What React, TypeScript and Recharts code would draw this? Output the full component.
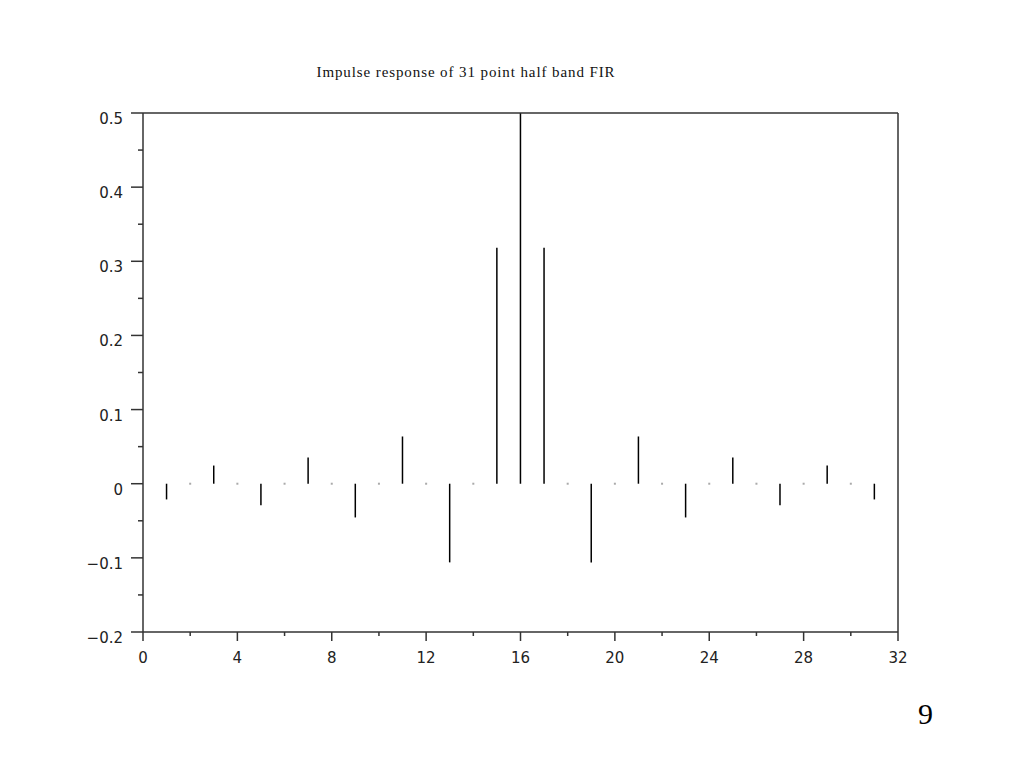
import React from 'react';
import { ComposedChart, Bar, Scatter, XAxis, YAxis, ReferenceLine } from 'recharts';

// sample index and coefficient
const sampleIndex = [1, 2, 3, 4, 5, 6, 7, 8, 9, 10, 11, 12, 13, 14, 15, 16, 17, 18, 19, 20, 21, 22, 23, 24, 25, 26, 27, 28, 29, 30, 31];
const coefficient = [
  -0.0212, 0, 0.0245, 0, -0.0289, 0, 0.0354, 0, -0.0455, 0, 0.0637, 0, -0.1061, 0, 0.3183,
  0.5,
  0.3183, 0, -0.1061, 0, 0.0637, 0, -0.0455, 0, 0.0354, 0, -0.0289, 0, 0.0245, 0, -0.0212,
];

const xTicks = [0, 2, 4, 6, 8, 10, 12, 14, 16, 18, 20, 22, 24, 26, 28, 30, 32];
const xMajor = [0, 4, 8, 12, 16, 20, 24, 28, 32];
const yTicks = [-0.2, -0.15, -0.1, -0.05, 0, 0.05, 0.1, 0.15, 0.2, 0.25, 0.3, 0.35, 0.4, 0.45, 0.5];
const yMajorLabels: Record<string, string> = {
  '-0.2': '\u22120.2',
  '-0.1': '\u22120.1',
  '0': '0',
  '0.1': '0.1',
  '0.2': '0.2',
  '0.3': '0.3',
  '0.4': '0.4',
  '0.5': '0.5',
};

const title = 'Impulse response of 31 point half band FIR';
const pageNumber = '9';

const data = sampleIndex.map((n, i) => ({ n, h: coefficient[i] }));
const zeroPoints = data.filter((d) => d.h === 0);

const axisColor = '#333';
const labelFont = 'DejaVu Sans, sans-serif';

const XTick = (props: any) => {
  const { x, y, payload } = props;
  const major = xMajor.includes(payload.value);
  return (
    <g>
      <line x1={x} x2={x} y1={y} y2={y + (major ? 9 : 4)} stroke={axisColor} strokeWidth={1.5} />
      {major && (
        <text x={x} y={y + 31} textAnchor="middle" fontSize={15} fontFamily={labelFont} fill="#222">
          {payload.value}
        </text>
      )}
    </g>
  );
};

const YTick = (props: any) => {
  const { x, y, payload } = props;
  const key = String(Math.round(payload.value * 10) / 10);
  const major = Math.abs(Math.round(payload.value * 100)) % 10 === 0;
  return (
    <g>
      <line x1={x - (major ? 12 : 5)} x2={x} y1={y} y2={y} stroke={axisColor} strokeWidth={1.5} />
      {major && (
        <text x={x - 20} y={y + 11} textAnchor="end" fontSize={15} fontFamily={labelFont} fill="#222">
          {yMajorLabels[key]}
        </text>
      )}
    </g>
  );
};

const App = () => {
  return (
    <div style={{ position: 'absolute', left: 0, top: 0, width: 1023, height: 767, background: '#fff' }}>
      <div
        style={{
          position: 'absolute',
          left: 266,
          top: 64,
          width: 400,
          textAlign: 'center',
          fontFamily: 'Liberation Serif, serif',
          fontSize: 15,
          letterSpacing: 0.9,
          color: '#111',
          whiteSpace: 'nowrap',
        }}
      >
        {title}
      </div>
      <div
        style={{
          position: 'absolute',
          left: 918,
          top: 697,
          fontFamily: 'Liberation Serif, serif',
          fontSize: 30,
          color: '#000',
        }}
      >
        {pageNumber}
      </div>
      <ComposedChart
        width={1023}
        height={767}
        data={data}
        margin={{ top: 113, right: 125, left: 83, bottom: 95 }}
      >
        <XAxis
          type="number"
          dataKey="n"
          domain={[0, 32]}
          ticks={xTicks}
          interval={0}
          height={40}
          tickSize={0}
          tickMargin={0}
          tickLine={false}
          axisLine={{ stroke: axisColor, strokeWidth: 1.5 }}
          tick={<XTick />}
          allowDataOverflow
        />
        <YAxis
          type="number"
          domain={[-0.2, 0.5]}
          ticks={yTicks}
          interval={0}
          width={60}
          tickSize={0}
          tickMargin={0}
          tickLine={false}
          axisLine={{ stroke: axisColor, strokeWidth: 1.5 }}
          tick={<YTick />}
          allowDataOverflow
        />
        <ReferenceLine y={0.5} stroke={axisColor} strokeWidth={1.5} />
        <ReferenceLine x={32} stroke={axisColor} strokeWidth={1.5} />
        <Bar dataKey="h" barSize={1.5} fill="#000" isAnimationActive={false} />
        <Scatter
          data={zeroPoints}
          dataKey="h"
          fill="#999"
          isAnimationActive={false}
          shape={(p: any) => <rect x={p.cx - 1} y={p.cy - 1} width={2} height={2} fill="#aaa" />}
        />
      </ComposedChart>
    </div>
  );
};

export default App;
